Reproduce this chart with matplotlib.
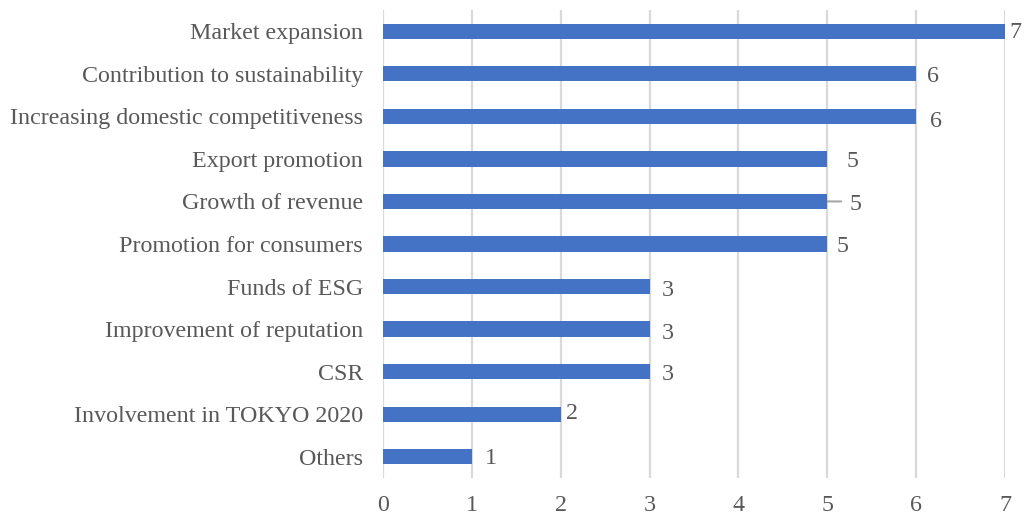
import matplotlib
matplotlib.use("Agg")
import matplotlib.pyplot as plt

# Categories from top to bottom and their counts
categories = [
    "Market expansion",
    "Contribution to sustainability",
    "Increasing domestic competitiveness",
    "Export promotion",
    "Growth of revenue",
    "Promotion for consumers",
    "Funds of ESG",
    "Improvement of reputation",
    "CSR",
    "Involvement in TOKYO 2020",
    "Others",
]
counts = [7, 6, 6, 5, 5, 5, 3, 3, 3, 2, 1]
x_ticks = [0, 1, 2, 3, 4, 5, 6, 7]

# Per-label nudges (points) for the value labels: (dx, dy)
label_nudge = [(3, -1), (8, -2), (10, -3.5), (14, -2), (16, -2), (7, -2),
               (9, -2.5), (9, -3), (9, -2), (4, 0.5), (9, -1.5)]

plt.rcParams["font.family"] = ["Liberation Serif", "DejaVu Serif"]
TEXT = "#595959"
BAR = "#4472C4"
GRID = "#D9D9D9"

fig = plt.figure(figsize=(10.25, 5.2), dpi=100)
ax = fig.add_axes([0.3737, 0.0808, 0.6068, 0.9000])

ypos = list(range(len(categories)))
ax.barh(ypos, counts, height=0.36, color=BAR, zorder=3)

ax.set_ylim(len(categories) - 0.5, -0.5)
ax.set_xlim(0, 7)
ax.set_xticks(x_ticks)
ax.set_yticks(ypos)
ax.set_yticklabels(categories)

ax.xaxis.grid(True, color=GRID, linewidth=1.6, zorder=0)
ax.yaxis.grid(False)
for s in ax.spines.values():
    s.set_visible(False)

ax.tick_params(axis="both", length=0, labelsize=17.3, labelcolor=TEXT)
ax.tick_params(axis="y", pad=14.5)
ax.tick_params(axis="x", pad=12)
for lbl in ax.get_yticklabels():
    lbl.set_y(lbl.get_position()[1])

for i, (v, (dx, dy)) in enumerate(zip(counts, label_nudge)):
    ax.annotate(str(v), xy=(v, i), xytext=(dx, dy), textcoords="offset points",
                ha="left", va="center", fontsize=17.3, color=TEXT,
                annotation_clip=False, zorder=4)

# Leader line on the "Growth of revenue" label
gi = categories.index("Growth of revenue")
ax.annotate("", xy=(counts[gi], gi), xytext=(10, 0), textcoords="offset points",
            arrowprops=dict(arrowstyle="-", color="#A6A6A6", lw=1.5,
                            shrinkA=0, shrinkB=0),
            annotation_clip=False, zorder=2)

fig.savefig("out.png", dpi=100)
